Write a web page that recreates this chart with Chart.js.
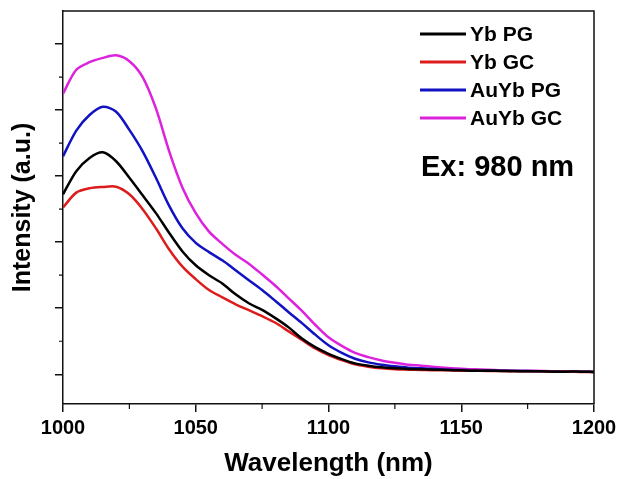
<!DOCTYPE html>
<html>
<head>
<meta charset="utf-8">
<script src="https://cdn.jsdelivr.net/npm/chart.js@4/dist/chart.umd.min.js"></script>
<style>
  html, body { margin: 0; padding: 0; background: #fff; }
  #wrap { width: 618px; height: 479px; }
</style>
</head>
<body>
<div id="wrap"><canvas id="c" width="618" height="479"></canvas></div>
<script>
const wavelengths = [1000,1005,1010,1015,1020,1025,1030,1035,1040,1045,1050,1055,1060,1065,1070,1075,1080,1085,1090,1095,1100,1105,1110,1115,1120,1125,1130,1135,1140,1145,1150,1155,1160,1165,1170,1175,1180,1185,1190,1195,1200];
const seriesLabels = ["Yb PG", "Yb GC", "AuYb PG", "AuYb GC"];
const ybPG   = [5.45,6.15,6.55,6.72,6.45,5.95,5.42,4.88,4.28,3.72,3.3,3.0,2.75,2.42,2.15,1.95,1.7,1.42,1.08,0.82,0.62,0.46,0.33,0.26,0.21,0.18,0.16,0.15,0.14,0.13,0.12,0.11,0.11,0.1,0.1,0.09,0.09,0.08,0.08,0.08,0.07];
const ybGC   = [5.05,5.5,5.63,5.67,5.68,5.45,5.0,4.42,3.78,3.26,2.88,2.55,2.33,2.12,1.94,1.76,1.56,1.3,1.04,0.78,0.58,0.43,0.3,0.23,0.18,0.15,0.14,0.13,0.12,0.12,0.11,0.11,0.1,0.1,0.09,0.09,0.09,0.08,0.08,0.07,0.07];
const auybPG = [6.6,7.38,7.85,8.1,7.95,7.4,6.75,5.95,5.1,4.42,3.98,3.7,3.45,3.15,2.85,2.55,2.22,1.88,1.55,1.2,0.88,0.65,0.47,0.36,0.29,0.24,0.2,0.18,0.16,0.14,0.13,0.12,0.12,0.11,0.1,0.1,0.09,0.09,0.08,0.08,0.07];
const auybGC = [8.5,9.22,9.45,9.58,9.66,9.48,9.0,8.05,6.75,5.65,4.88,4.32,3.95,3.62,3.35,3.02,2.68,2.3,1.92,1.5,1.12,0.86,0.65,0.52,0.42,0.35,0.29,0.26,0.22,0.19,0.17,0.15,0.14,0.12,0.11,0.11,0.1,0.09,0.09,0.08,0.07];
const xMajorTicks = [1000,1050,1100,1150,1200];
const xMinorTicks = [1025,1075,1125,1175];
const yMajorTicks = [0,2,4,6,8,10];
const yMinorTicks = [1,3,5,7,9];
const annotationText = "Ex: 980 nm";
const xTitle = "Wavelength (nm)";
const yTitle = "Intensity (a.u.)";

const colors = ["#000000", "#dd1c1c", "#1212c2", "#dd22dd"];
const allSeries = [ybPG, ybGC, auybPG, auybGC];
const FONT = "'Liberation Sans', Arial, Helvetica, sans-serif";

const datasets = allSeries.map((arr, k) => ({
  label: seriesLabels[k],
  data: wavelengths.map((w, i) => ({x: w, y: arr[i]})),
  borderColor: colors[k],
  backgroundColor: colors[k],
  borderWidth: 2.5,
  pointRadius: 0,
  tension: 0.3,
  fill: false
}));

const decor = {
  id: 'decor',
  afterDraw(chart) {
    const ctx = chart.ctx;
    const a = chart.chartArea;
    const xs = chart.scales.x, ys = chart.scales.y;
    ctx.save();
    ctx.strokeStyle = '#111';
    ctx.lineWidth = 1.5;
    ctx.beginPath();
    ctx.moveTo(a.left, a.top); ctx.lineTo(a.right, a.top); ctx.lineTo(a.right, a.bottom);
    ctx.stroke();
    ctx.lineWidth = 1.2;
    ctx.beginPath();
    xMinorTicks.forEach(v => { const px = xs.getPixelForValue(v); ctx.moveTo(px, a.bottom); ctx.lineTo(px, a.bottom + 5); });
    yMinorTicks.forEach(v => { const py = ys.getPixelForValue(v); ctx.moveTo(a.left, py); ctx.lineTo(a.left - 4, py); });
    ctx.stroke();
    const lx0 = 420, lx1 = 466, ly0 = 34, dy = 28;
    chart.data.datasets.forEach((ds, i) => {
      const y = ly0 + i * dy;
      ctx.strokeStyle = ds.borderColor;
      ctx.lineWidth = 3;
      ctx.beginPath(); ctx.moveTo(lx0, y); ctx.lineTo(lx1, y); ctx.stroke();
      ctx.fillStyle = '#000';
      ctx.font = "bold 21px " + FONT;
      ctx.textBaseline = 'middle';
      ctx.textAlign = 'left';
      ctx.fillText(ds.label, lx1 + 4, y + 1);
    });
    ctx.font = "bold 29px " + FONT;
    ctx.fillStyle = '#000';
    ctx.textBaseline = 'middle';
    ctx.fillText(annotationText, 421, 168);
    ctx.restore();
  }
};

new Chart(document.getElementById('c'), {
  type: 'line',
  data: { datasets },
  options: {
    responsive: false,
    animation: false,
    devicePixelRatio: 1,
    layout: { padding: { top: 11, right: 24, left: 0, bottom: 0 } },
    plugins: { legend: { display: false }, tooltip: { enabled: false } },
    scales: {
      x: {
        type: 'linear',
        min: 1000, max: 1200,
        afterBuildTicks: s => { s.ticks = xMajorTicks.map(v => ({value: v})); },
        afterFit: s => { s.height = 75; s.paddingRight = 0; s.paddingLeft = 0; },
        ticks: { color: '#000', font: { family: FONT, size: 20, weight: 'bold' }, padding: 4, maxRotation: 0, autoSkip: false, callback: v => String(v) },
        grid: { drawOnChartArea: false, drawTicks: true, tickLength: 8, color: '#111', lineWidth: 1.5 },
        border: { display: true, color: '#111', width: 1.5 },
        title: { display: true, text: xTitle, color: '#000', font: { family: FONT, size: 26, weight: 'bold', lineHeight: 1.2 }, padding: { top: 0, bottom: 0 } }
      },
      y: {
        type: 'linear',
        min: -0.9, max: 11,
        afterBuildTicks: s => { s.ticks = yMajorTicks.map(v => ({value: v})); },
        afterFit: s => { s.width = 63; },
        ticks: { display: false },
        grid: { drawOnChartArea: false, drawTicks: true, tickLength: 8, color: '#111', lineWidth: 1.5 },
        border: { display: true, color: '#111', width: 1.5 },
        title: { display: true, text: yTitle, color: '#000', font: { family: FONT, size: 25, weight: 'bold', lineHeight: 1.2 }, padding: { top: 8, bottom: 0 } }
      }
    }
  },
  plugins: [decor]
});
</script>
</body>
</html>
